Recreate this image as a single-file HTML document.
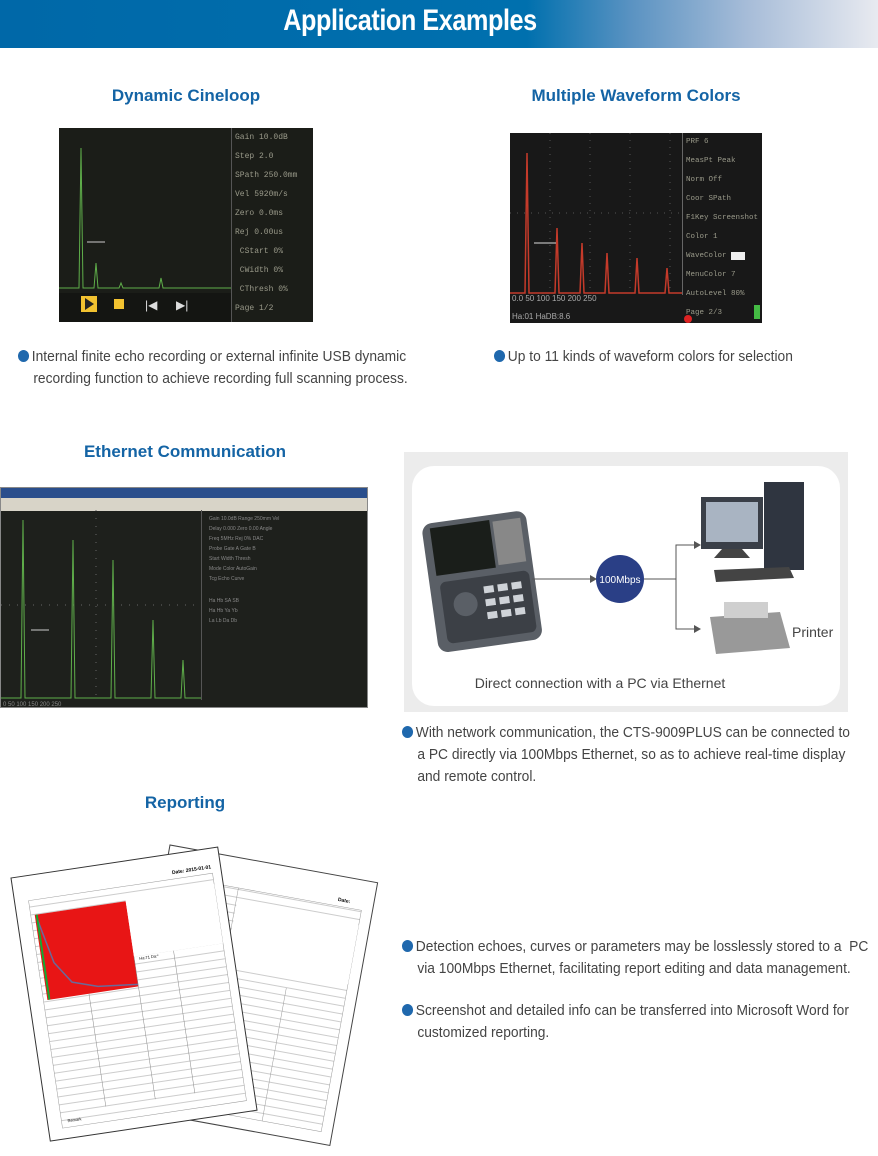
<!DOCTYPE html>
<html><head><meta charset="utf-8">
<style>
*{margin:0;padding:0;box-sizing:border-box}
body{width:878px;height:1156px;background:#fff;position:relative;overflow:hidden;font-family:"Liberation Sans",sans-serif}
.hdr{position:absolute;left:0;top:0;width:878px;height:48px;background:linear-gradient(90deg,#0068a8 0%,#0070ae 60%,#5b93c2 72%,#a6bcd8 85%,#e8eaf0 100%)}
.hdr span{position:absolute;left:160px;top:4px;width:500px;text-align:center;color:#fff;font-weight:bold;font-size:30px;transform:scaleX(0.84);transform-origin:center;white-space:nowrap;letter-spacing:-0.5px}
.h{position:absolute;color:#1464a5;font-weight:bold;font-size:17px;text-align:center;white-space:nowrap}
.t{position:absolute;color:#444;font-size:15px;line-height:22px;transform:scaleX(0.92);transform-origin:left top;white-space:nowrap}
.dot{display:inline-block;width:12px;height:12px;border-radius:50%;background:#1f68ad;margin-right:3px;vertical-align:-1px}
.scr{position:absolute;background:#1b1d18;overflow:hidden}
.st{position:absolute;color:#9a9a8a;font-family:"Liberation Mono",monospace;font-size:8px;line-height:19px}
</style></head><body>
<div class="hdr"><span>Application Examples</span></div>

<div class="h" style="left:86px;top:86px;width:200px">Dynamic Cineloop</div>
<div class="h" style="left:516px;top:86px;width:240px">Multiple Waveform Colors</div>

<div class="scr" style="left:59px;top:128px;width:254px;height:194px">
<svg width="254" height="194" style="position:absolute;left:0;top:0">
<rect x="172" y="0" width="1" height="194" fill="#555"/>
<polyline points="0,160 20,160 22,20 24,160 35,160 37,135 39,160 60,160 62,155 64,160 100,160 102,150 104,160 172,160" fill="none" stroke="#5fae4a" stroke-width="1"/>
<line x1="28" y1="114" x2="46" y2="114" stroke="#ccc"/>
<rect x="0" y="165" width="172" height="29" fill="#141512"/>
<rect x="22" y="168" width="16" height="16" fill="#f2c230"/><polygon points="26,170 26,182 35,176" fill="#222"/>
<rect x="55" y="171" width="10" height="10" fill="#f2c230"/>
<text x="86" y="181" fill="#ddd" font-size="12">|◀</text><text x="117" y="181" fill="#ddd" font-size="12">▶|</text>
</svg>
<div class="st" style="left:176px;top:0">Gain 10.0dB<br>Step 2.0<br>SPath 250.0mm<br>Vel 5920m/s<br>Zero 0.0ms<br>Rej 0.00us<br>&nbsp;CStart 0%<br>&nbsp;CWidth 0%<br>&nbsp;CThresh 0%<br>Page 1/2<br>0114 / 0433<br>&nbsp;1 / 1 min</div>
</div>

<div class="scr" style="left:510px;top:133px;width:252px;height:190px;background:#181818">
<svg width="252" height="190" style="position:absolute;left:0;top:0">
<g stroke="#555" stroke-dasharray="1,6"><line x1="40" y1="0" x2="40" y2="160"/><line x1="80" y1="0" x2="80" y2="160"/><line x1="120" y1="0" x2="120" y2="160"/><line x1="160" y1="0" x2="160" y2="160"/><line x1="0" y1="80" x2="172" y2="80"/></g>
<polyline points="0,160 15,160 17,20 19,160 45,160 47,95 49,160 70,160 72,110 74,160 95,160 97,120 99,160 125,160 127,125 129,160 155,160 157,135 159,160 172,160" fill="none" stroke="#c43a2a" stroke-width="1.5"/>
<line x1="24" y1="110" x2="46" y2="110" stroke="#ddd"/>
<rect x="172" y="0" width="1" height="162" fill="#666"/>
<text x="2" y="168" fill="#aaa" font-size="8">0.0  50  100  150  200  250</text>
<text x="2" y="186" fill="#aaa" font-size="8">Ha:01   HaDB:8.6</text>
<circle cx="178" cy="186" r="4" fill="#d22"/><rect x="244" y="172" width="6" height="14" fill="#4b4"/>
</svg>
<div class="st" style="left:176px;top:0;font-size:7.5px">PRF 6<br>MeasPt Peak<br>Norm Off<br>Coor SPath<br>F1Key Screenshot<br>Color 1<br>WaveColor <span style="background:#eee;color:#000">&nbsp;&nbsp;&nbsp;</span><br>MenuColor 7<br>AutoLevel 80%<br>Page 2/3</div>
</div>

<div class="t" style="left:18px;top:346px"><span class="dot"></span>Internal finite echo recording or external infinite USB dynamic<br>&nbsp;&nbsp;&nbsp;&nbsp;recording function to achieve recording full scanning process.</div>
<div class="t" style="left:494px;top:346px"><span class="dot"></span>Up to 11 kinds of waveform colors for selection</div>

<div class="h" style="left:70px;top:442px;width:230px">Ethernet Communication</div>

<div class="scr" style="left:0;top:487px;width:368px;height:221px;background:#1e201c;border:1px solid #888">
<div style="position:absolute;left:0;top:0;width:368px;height:10px;background:#2a4e8c"></div>
<div style="position:absolute;left:0;top:10px;width:368px;height:13px;background:#d8d4c8"></div>
<svg width="368" height="200" style="position:absolute;left:0;top:22px">
<g stroke="#666" stroke-dasharray="1,7"><line x1="95" y1="0" x2="95" y2="190"/><line x1="0" y1="95" x2="200" y2="95"/></g>
<polyline points="0,188 20,188 22,10 24,188 70,188 72,30 74,188 110,188 112,50 114,188 150,188 152,110 154,188 180,188 182,150 184,188 200,188" fill="none" stroke="#5fae4a"/>
<line x1="30" y1="120" x2="48" y2="120" stroke="#ccc"/>
<rect x="200" y="0" width="1" height="190" fill="#555"/>
<g fill="#888" font-size="5"><text x="208" y="10">Gain 10.0dB  Range 250mm  Vel</text><text x="208" y="20">Delay 0.000  Zero 0.00  Angle</text><text x="208" y="30">Freq 5MHz  Rej 0%  DAC</text><text x="208" y="40">Probe  Gate A  Gate B</text><text x="208" y="50">Start  Width  Thresh</text><text x="208" y="60">Mode  Color  AutoGain</text><text x="208" y="70">Tcg  Echo  Curve</text><text x="208" y="92">Ha Hb  SA  SB</text><text x="208" y="102">Ha  Hb  Ya  Yb</text><text x="208" y="112">La  Lb  Da  Db</text></g>
<text x="2" y="196" fill="#888" font-size="6">0   50   100   150   200   250</text>
</svg>
</div>

<div style="position:absolute;left:404px;top:452px;width:444px;height:260px;background:#ececec">
<div style="position:absolute;left:8px;top:14px;width:428px;height:240px;background:#fff;border-radius:22px"></div>
<svg width="444" height="260" style="position:absolute;left:0;top:0">
<g transform="rotate(-8 75 125)">
<rect x="25" y="65" width="105" height="130" rx="10" fill="#5a5f66"/>
<rect x="33" y="70" width="60" height="48" fill="#1a1e1a"/>
<rect x="96" y="72" width="28" height="44" fill="#888"/>
<rect x="35" y="125" width="90" height="62" rx="6" fill="#3c4046"/>
<circle cx="58" cy="150" r="12" fill="#5a5f66"/>
<g fill="#cfd3d8"><rect x="78" y="135" width="10" height="7"/><rect x="92" y="135" width="10" height="7"/><rect x="106" y="135" width="10" height="7"/><rect x="78" y="148" width="10" height="7"/><rect x="92" y="148" width="10" height="7"/><rect x="106" y="148" width="10" height="7"/><rect x="78" y="161" width="10" height="7"/><rect x="92" y="161" width="10" height="7"/><rect x="106" y="161" width="10" height="7"/></g>
</g>
<line x1="128" y1="127" x2="186" y2="127" stroke="#555"/><polygon points="186,123 193,127 186,131" fill="#555"/>
<circle cx="216" cy="127" r="24" fill="#2a3f86"/><text x="216" y="131" fill="#fff" font-size="10" text-anchor="middle">100Mbps</text>
<line x1="240" y1="127" x2="272" y2="127" stroke="#555"/>
<polyline points="290,93 272,93 272,177 290,177" fill="none" stroke="#555"/>
<polygon points="290,89 297,93 290,97" fill="#555"/><polygon points="290,173 297,177 290,181" fill="#555"/>
<rect x="297" y="45" width="62" height="52" fill="#3a3f48"/><rect x="302" y="50" width="52" height="40" fill="#a9b4c2"/>
<polygon points="318,97 338,97 346,106 310,106" fill="#444"/>
<rect x="360" y="30" width="40" height="88" fill="#2f3540"/>
<polygon points="310,118 385,115 390,126 312,130" fill="#444"/>
<polygon points="306,165 376,160 386,196 312,202" fill="#999"/><rect x="320" y="150" width="44" height="16" fill="#cfcfcf"/>
<text x="388" y="185" fill="#444" font-size="14">Printer</text>
<text x="196" y="236" fill="#444" font-size="14" text-anchor="middle">Direct connection with a PC via Ethernet</text>
</svg>
</div>

<div class="t" style="left:402px;top:722px"><span class="dot"></span>With network communication, the CTS-9009PLUS can be connected to<br>&nbsp;&nbsp;&nbsp;&nbsp;a PC directly via 100Mbps Ethernet, so as to achieve real-time display<br>&nbsp;&nbsp;&nbsp;&nbsp;and remote control.</div>

<div class="h" style="left:110px;top:793px;width:150px">Reporting</div>

<svg width="400" height="320" style="position:absolute;left:0;top:836px">
<defs><pattern id="ln" width="10" height="8" patternUnits="userSpaceOnUse"><line x1="0" y1="7.5" x2="10" y2="7.5" stroke="#999" stroke-width="0.5"/></pattern></defs>
<g transform="translate(170,9) rotate(10.3)">
<rect x="0" y="0" width="211" height="267" fill="#fff" stroke="#444"/>
<rect x="10" y="30" width="190" height="225" fill="url(#ln)" stroke="#999" stroke-width="0.5"/>
<line x1="75" y1="30" x2="75" y2="255" stroke="#999" stroke-width="0.5"/>
<line x1="140" y1="120" x2="140" y2="255" stroke="#999" stroke-width="0.5"/>
<rect x="76" y="45" width="124" height="60" fill="#fff"/>
<text x="175" y="25" font-size="5" font-weight="bold">Date:</text>
</g>
<g transform="translate(11,42) rotate(-8.5)">
<rect x="0" y="0" width="209" height="266" fill="#fff" stroke="#333"/>
<rect x="14" y="25" width="186" height="230" fill="url(#ln)" stroke="#999" stroke-width="0.5"/>
<rect x="18" y="40" width="92" height="86" fill="#e81515"/>
<polyline points="20,45 30,90 45,112 70,120 110,124" fill="none" stroke="#6a6a9a" stroke-width="1.5"/>
<line x1="20" y1="40" x2="20" y2="126" stroke="#1a3" stroke-width="2"/>
<rect x="110" y="36" width="90" height="60" fill="#fff"/>
<line x1="60" y1="126" x2="60" y2="240" stroke="#888" stroke-width="0.5"/>
<line x1="110" y1="96" x2="110" y2="240" stroke="#888" stroke-width="0.5"/>
<line x1="150" y1="96" x2="150" y2="240" stroke="#888" stroke-width="0.5"/>
<text x="160" y="20" font-size="5" font-weight="bold">Date: 2015-01-01</text>
<text x="115" y="100" font-size="4">Ha:71  Da:*</text>
<text x="20" y="250" font-size="4">Remark</text>
</g>
</svg>

<div class="t" style="left:402px;top:936px"><span class="dot"></span>Detection echoes, curves or parameters may be losslessly stored to a&nbsp; PC<br>&nbsp;&nbsp;&nbsp;&nbsp;via 100Mbps Ethernet, facilitating report editing and data management.</div>
<div class="t" style="left:402px;top:1000px"><span class="dot"></span>Screenshot and detailed info can be transferred into Microsoft Word for<br>&nbsp;&nbsp;&nbsp;&nbsp;customized reporting.</div>
</body></html>
